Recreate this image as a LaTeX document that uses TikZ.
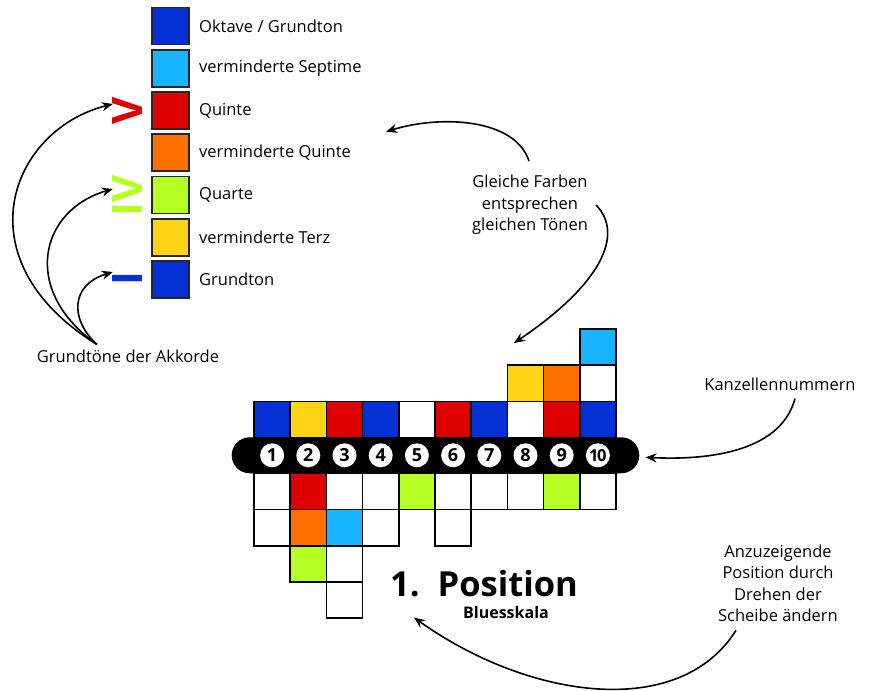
\documentclass[tikz,border=0pt]{standalone}
\usepackage{fontspec}
\setmainfont{Open Sans}
\usetikzlibrary{arrows.meta}
\definecolor{oktave}{RGB}{4,48,214}
\definecolor{septime}{RGB}{24,180,255}
\definecolor{quinte}{RGB}{222,0,0}
\definecolor{vquinte}{RGB}{255,112,0}
\definecolor{quarte}{RGB}{182,255,34}
\definecolor{terz}{RGB}{255,212,20}
\begin{document}
\begin{tikzpicture}[
        x=1pt, y=-1pt,
        key/.style={rectangle, draw=black!85, line width=1.6pt, minimum size=37pt, inner sep=0pt},
        keytext/.style={anchor=west, inner sep=0pt, font=\fontsize{16.5}{19}\selectfont},
        cell/.style={rectangle, draw=black, fill=white, line width=1.6pt, minimum size=36.2pt, inner sep=0pt},
        hole/.style={circle, fill=white, minimum size=24pt, inner sep=0pt, font=\fontsize{18}{18}\selectfont\bfseries},
        roman/.style={rotate=90, inner sep=0pt, font=\fontsize{42}{42}\selectfont\bfseries},
        note/.style={align=center, inner sep=0pt, font=\fontsize{16.5}{21.5}\selectfont},
        arrow/.style={-{Stealth[length=11pt, width=9pt]}, line width=1.6pt}
    ]
    \useasboundingbox (0,0) rectangle (871,691);

    % Legend
    \node[key, fill=oktave] (k1) at (170.5,26) {};
    \node[key, fill=septime] (k2) at (170.5,68.2) {};
    \node[key, fill=quinte] (k3) at (170.5,110.5) {};
    \node[key, fill=vquinte] (k4) at (170.5,152.7) {};
    \node[key, fill=quarte] (k5) at (170.5,194.9) {};
    \node[key, fill=terz] (k6) at (170.5,237.2) {};
    \node[key, fill=oktave] (k7) at (170.5,279.4) {};
    \node[keytext] (t1) at (199,26) {Oktave / Grundton};
    \node[keytext] (t2) at (199,68.2) {verminderte Septime};
    \node[keytext] (t3) at (199,110.5) {Quinte};
    \node[keytext] (t4) at (199,152.7) {verminderte Quinte};
    \node[keytext] (t5) at (199,194.9) {Quarte};
    \node[keytext] (t6) at (199,237.2) {verminderte Terz};
    \node[keytext] (t7) at (199,279.4) {Grundton};

    % Stufen
    \node[roman, text=quinte] (stufe5) at (128,111) {V};
    \node[roman, text=quarte] (stufe4) at (128,196) {IV};
    \node[roman, text=oktave] (stufe1) at (128,279) {I};

    % Blasen
    \node[cell, fill=oktave] (h1) at (272.1,419.5) {};
    \node[cell, fill=terz] (h2) at (308.3,419.5) {};
    \node[cell, fill=quinte] (h3) at (344.5,419.5) {};
    \node[cell, fill=oktave] (h4) at (380.7,419.5) {};
    \node[cell] (h5) at (416.9,419.5) {};
    \node[cell, fill=quinte] (h6) at (453.1,419.5) {};
    \node[cell, fill=oktave] (h7) at (489.3,419.5) {};
    \node[cell] (h8) at (525.5,419.5) {};
    \node[cell, fill=quinte] (h9) at (561.7,419.5) {};
    \node[cell, fill=oktave] (h10) at (597.9,419.5) {};
    \node[cell, fill=terz] (h8b) at (525.5,383.3) {};
    \node[cell, fill=vquinte] (h9b) at (561.7,383.3) {};
    \node[cell] (h10b) at (597.9,383.3) {};
    \node[cell, fill=septime] (h10c) at (597.9,347.1) {};

    % Ziehen
    \node[cell] (d1) at (272.1,491.4) {};
    \node[cell, fill=quinte] (d2) at (308.3,491.4) {};
    \node[cell] (d3) at (344.5,491.4) {};
    \node[cell] (d4) at (380.7,491.4) {};
    \node[cell, fill=quarte] (d5) at (416.9,491.4) {};
    \node[cell] (d6) at (453.1,491.4) {};
    \node[cell] (d7) at (489.3,491.4) {};
    \node[cell] (d8) at (525.5,491.4) {};
    \node[cell, fill=quarte] (d9) at (561.7,491.4) {};
    \node[cell] (d10) at (597.9,491.4) {};
    \node[cell] (d1b) at (272.1,527.6) {};
    \node[cell, fill=vquinte] (d2b) at (308.3,527.6) {};
    \node[cell, fill=septime] (d3b) at (344.5,527.6) {};
    \node[cell] (d4b) at (380.7,527.6) {};
    \node[cell] (d6b) at (453.1,527.6) {};
    \node[cell, fill=quarte] (d2c) at (308.3,563.8) {};
    \node[cell] (d3c) at (344.5,563.8) {};
    \node[cell] (d3d) at (344.5,600) {};

    % Kanzellen
    \node[rectangle, rounded corners=18pt, fill=black, minimum width=407.6pt, minimum height=36pt] (bar) at (435.5,455.3) {};
    \node[hole] (n1) at (272.1,455.3) {1};
    \node[hole] (n2) at (308.3,455.3) {2};
    \node[hole] (n3) at (344.5,455.3) {3};
    \node[hole] (n4) at (380.7,455.3) {4};
    \node[hole] (n5) at (416.9,455.3) {5};
    \node[hole] (n6) at (453.1,455.3) {6};
    \node[hole] (n7) at (489.3,455.3) {7};
    \node[hole] (n8) at (525.5,455.3) {8};
    \node[hole] (n9) at (561.7,455.3) {9};
    \node[hole, font=\fontsize{16.5}{16.5}\selectfont\bfseries] (n10) at (597.9,455.3) {1\kern-1.5pt0};

    % Titel
    \node[inner sep=0pt, font=\fontsize{34.5}{34.5}\selectfont\bfseries] (pos) at (484,584) {1.\ \ Position};
    \node[inner sep=0pt, font=\fontsize{16}{16}\selectfont\bfseries] (skala) at (506,612) {Bluesskala};

    % Hinweise
    \node[note] (gleich) at (530,205) {Gleiche Farben\\entsprechen\\gleichen Tönen};
    \node[note] (kanz) at (780,384) {Kanzellennummern};
    \node[note] (dreh) at (778,583.5) {Anzuzeigende\\Position durch\\Drehen der\\Scheibe ändern};
    \node[note] (grundt) at (128,356) {Grundtöne der Akkorde};

    \draw[arrow] ([xshift=-1pt, yshift=14pt]gleich.north) .. controls (515,118) and (440,115) .. ([xshift=35pt, yshift=21pt]t4.east);
    \draw[arrow] ([xshift=8pt]gleich.east) .. controls (625,235) and (600,285) .. ([xshift=-65pt, yshift=4pt]h10c.west);
    \draw[arrow] ([xshift=15pt, yshift=-8pt]kanz.south) .. controls (780,455) and (700,460) .. ([xshift=6pt, yshift=-2pt]bar.east);
    \draw[arrow] ([xshift=-42pt, yshift=-8pt]dreh.south) .. controls (680,720) and (530,700) .. ([xshift=24pt, yshift=-20pt]pos.south west);
    \draw[arrow] ([xshift=-31pt, yshift=5pt]grundt.north) .. controls (-40,260) and (10,130) .. ([yshift=7pt]stufe5.north);
    \draw[arrow] ([xshift=-31pt, yshift=5pt]grundt.north) .. controls (20,290) and (40,210) .. ([yshift=7pt]stufe4.north);
    \draw[arrow] ([xshift=-31pt, yshift=5pt]grundt.north) .. controls (70,320) and (70,285) .. ([yshift=7pt]stufe1.north);

\end{tikzpicture}
\end{document}
